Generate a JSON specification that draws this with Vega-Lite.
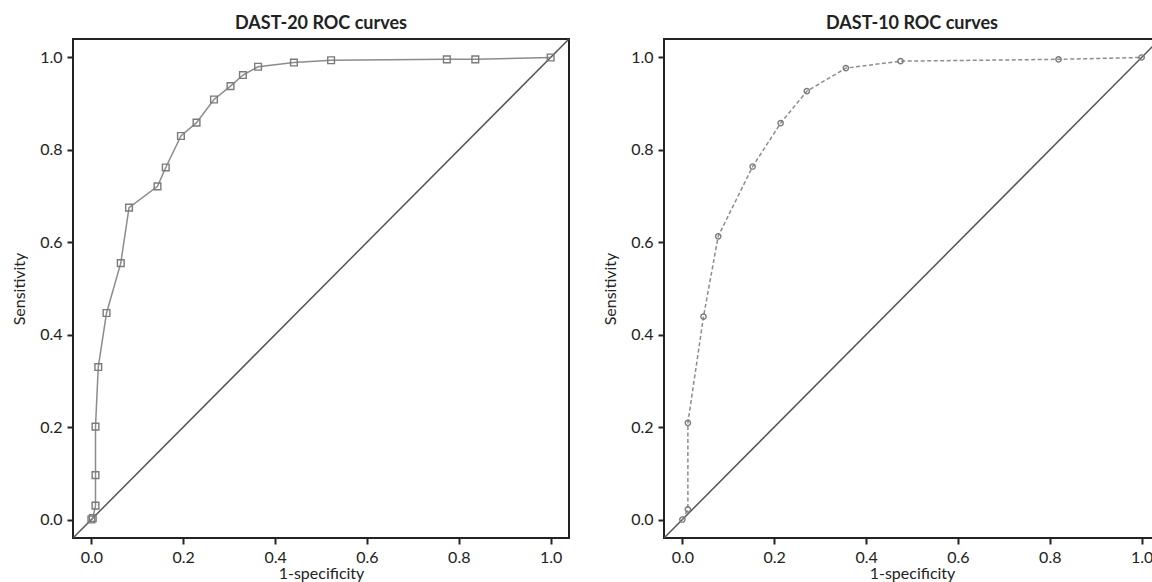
{
  "$schema": "https://vega.github.io/schema/vega-lite/v6.json",
  "padding": {"left": 10, "top": 14, "right": 0, "bottom": 0},
  "spacing": 31,
  "background": "white",
  "config": {
    "font": "Lato",
    "view": {"stroke": "#222222", "strokeWidth": 2},
    "axis": {
      "domain": false, "grid": false,
      "tickColor": "#222222", "tickWidth": 2, "tickSize": 6,
      "labelFont": "Lato", "labelFontSize": 16, "labelColor": "#222222", "labelPadding": 5,
      "titleFont": "Lato", "titleFontSize": 16, "titleFontWeight": "normal", "titleColor": "#222222"
    },
    "axisY": {"titlePadding": 12},
    "axisX": {"titlePadding": 0},
    "title": {"font": "Lato", "fontSize": 18, "fontWeight": "bold", "color": "#222222", "offset": 6}
  },
  "datasets": {
    "diag": [
      {"fpr": -0.04, "sensitivity": -0.04},
      {"fpr": 1.04, "sensitivity": 1.04}
    ],
    "dast20": [
      {"fpr": 0.0, "sensitivity": 0.0},
      {"fpr": 0.003, "sensitivity": 0.003},
      {"fpr": 0.009, "sensitivity": 0.03},
      {"fpr": 0.009, "sensitivity": 0.096},
      {"fpr": 0.009, "sensitivity": 0.201},
      {"fpr": 0.015, "sensitivity": 0.33},
      {"fpr": 0.033, "sensitivity": 0.447},
      {"fpr": 0.064, "sensitivity": 0.555},
      {"fpr": 0.082, "sensitivity": 0.675},
      {"fpr": 0.144, "sensitivity": 0.721},
      {"fpr": 0.162, "sensitivity": 0.762},
      {"fpr": 0.195, "sensitivity": 0.83},
      {"fpr": 0.229, "sensitivity": 0.859},
      {"fpr": 0.267, "sensitivity": 0.909},
      {"fpr": 0.303, "sensitivity": 0.938},
      {"fpr": 0.33, "sensitivity": 0.962},
      {"fpr": 0.363, "sensitivity": 0.98},
      {"fpr": 0.441, "sensitivity": 0.989},
      {"fpr": 0.522, "sensitivity": 0.994},
      {"fpr": 0.774, "sensitivity": 0.996},
      {"fpr": 0.836, "sensitivity": 0.996},
      {"fpr": 1.0, "sensitivity": 1.0}
    ],
    "dast10": [
      {"fpr": 0.0, "sensitivity": 0.0},
      {"fpr": 0.012, "sensitivity": 0.022},
      {"fpr": 0.012, "sensitivity": 0.209},
      {"fpr": 0.046, "sensitivity": 0.439},
      {"fpr": 0.078, "sensitivity": 0.613},
      {"fpr": 0.153, "sensitivity": 0.764},
      {"fpr": 0.214, "sensitivity": 0.858},
      {"fpr": 0.271, "sensitivity": 0.927},
      {"fpr": 0.356, "sensitivity": 0.977},
      {"fpr": 0.475, "sensitivity": 0.992},
      {"fpr": 0.819, "sensitivity": 0.996},
      {"fpr": 1.0, "sensitivity": 1.0}
    ]
  },
  "hconcat": [
    {
      "title": "DAST-20 ROC curves",
      "width": 496,
      "height": 499,
      "encoding": {
        "x": {"field": "fpr", "type": "quantitative", "scale": {"domain": [-0.04, 1.04], "nice": false, "zero": false}, "axis": {"values": [0, 0.2, 0.4, 0.6, 0.8, 1], "format": ".1f", "title": "1-specificity"}},
        "y": {"field": "sensitivity", "type": "quantitative", "scale": {"domain": [-0.04, 1.04], "nice": false, "zero": false}, "axis": {"values": [0, 0.2, 0.4, 0.6, 0.8, 1], "format": ".1f", "title": "Sensitivity"}}
      },
      "layer": [
        {"data": {"name": "diag"}, "mark": {"type": "line", "color": "#555555", "strokeWidth": 1.5, "clip": true}},
        {"data": {"name": "dast20"}, "mark": {"type": "line", "color": "#8c8c8c", "strokeWidth": 1.5}, "encoding": {"order": {"field": "sensitivity"}}},
        {"data": {"name": "dast20"}, "mark": {"type": "point", "shape": "square", "size": 45, "filled": false, "color": "#7a7a7a", "strokeWidth": 1.4, "opacity": 1}}
      ]
    },
    {
      "title": "DAST-10 ROC curves",
      "width": 496,
      "height": 499,
      "encoding": {
        "x": {"field": "fpr", "type": "quantitative", "scale": {"domain": [-0.04, 1.04], "nice": false, "zero": false}, "axis": {"values": [0, 0.2, 0.4, 0.6, 0.8, 1], "format": ".1f", "title": "1-specificity"}},
        "y": {"field": "sensitivity", "type": "quantitative", "scale": {"domain": [-0.04, 1.04], "nice": false, "zero": false}, "axis": {"values": [0, 0.2, 0.4, 0.6, 0.8, 1], "format": ".1f", "title": "Sensitivity"}}
      },
      "layer": [
        {"data": {"name": "diag"}, "mark": {"type": "line", "color": "#555555", "strokeWidth": 1.5, "clip": true}},
        {"data": {"name": "dast10"}, "mark": {"type": "line", "color": "#8c8c8c", "strokeWidth": 1.5, "strokeDash": [4, 2.5]}, "encoding": {"order": {"field": "sensitivity"}}},
        {"data": {"name": "dast10"}, "mark": {"type": "point", "shape": "circle", "size": 28, "filled": false, "color": "#7a7a7a", "strokeWidth": 1.4, "opacity": 1}}
      ]
    }
  ]
}
